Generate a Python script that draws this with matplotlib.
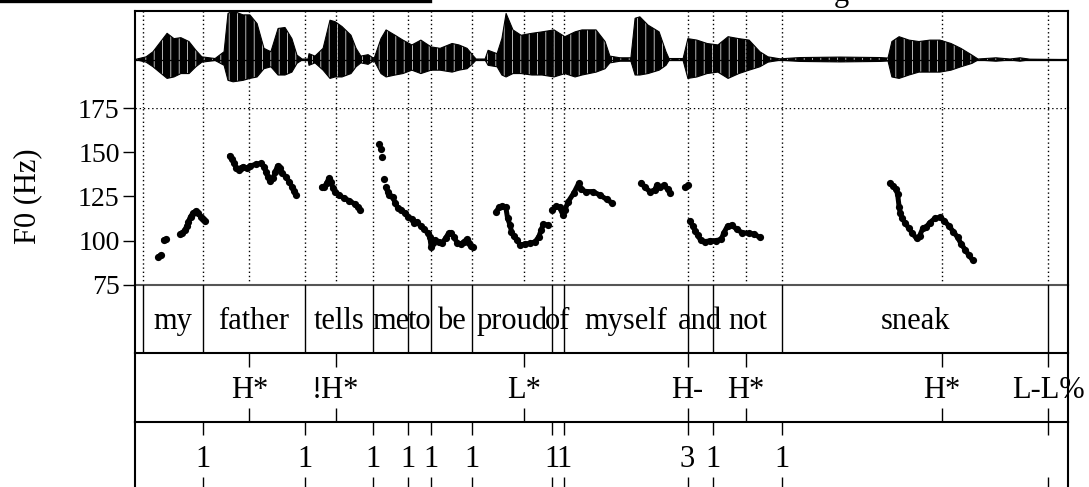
import matplotlib
matplotlib.use('Agg')
import matplotlib.pyplot as plt
from matplotlib.lines import Line2D

plt.rcParams['font.family'] = ['Liberation Serif', 'DejaVu Serif']
plt.rcParams['hatch.linewidth'] = 0.5

# ---------------- data ----------------
T_END = 3.109
words = ['my', 'father', 'tells', 'me', 'to', 'be', 'proud', 'of', 'myself', 'and', 'not', 'sneak']
word_bounds = [0.025, 0.228, 0.565, 0.794, 0.911, 0.987, 1.123, 1.389, 1.429, 1.842, 1.926, 2.158, 3.044]
tone_labels = ['H*', '!H*', 'L*', 'H-', 'H*', 'H*', 'L-L%']
tone_times = [0.381, 0.669, 1.297, 1.842, 2.036, 2.690, 3.044]
break_labels = ['1', '1', '1', '1', '1', '1', '1', '1', '3', '1', '1', '']
break_times = [0.228, 0.565, 0.794, 0.911, 0.987, 1.123, 1.389, 1.429, 1.842, 1.926, 2.158, 3.044]
f0_ticks = [75, 100, 125, 150, 175]

# F0 contour segments (time s, Hz)
f0_t_my1 = [0.077, 0.085]
f0_hz_my1 = [90.5, 91.8]
f0_t_my2 = [0.095, 0.104]
f0_hz_my2 = [100.3, 100.8]
f0_t_my3 = [0.150, 0.158, 0.166, 0.173, 0.178, 0.185, 0.193, 0.202, 0.210, 0.219, 0.225, 0.234]
f0_hz_my3 = [103.5, 104.4, 105.9, 108.2, 110.7, 113.5, 115.4, 116.7, 115.4, 113.5, 112.2, 111.2]
f0_t_father = [0.315, 0.323, 0.330, 0.338, 0.345, 0.353, 0.361, 0.373, 0.384, 0.402, 0.419, 0.431,
               0.436, 0.442, 0.451, 0.460, 0.468, 0.475, 0.483, 0.491, 0.502, 0.514, 0.523, 0.529, 0.535]
f0_hz_father = [147.9, 146.0, 143.7, 140.9, 139.9, 140.9, 141.8, 140.9, 142.2, 143.1, 143.7, 141.8,
                139.0, 136.2, 133.9, 135.2, 139.0, 142.2, 140.9, 138.1, 136.2, 133.3, 130.5, 128.2, 125.8]
f0_t_tells = [0.622, 0.631, 0.639, 0.646, 0.653, 0.660, 0.668, 0.680, 0.697, 0.714, 0.732, 0.743, 0.751]
f0_hz_tells = [130.1, 130.5, 132.4, 135.2, 133.3, 129.6, 127.7, 125.8, 123.9, 122.6, 120.7, 118.8, 117.3]
f0_t_me_dots = [0.813, 0.819, 0.824, 0.830]
f0_hz_me_dots = [154.5, 151.6, 147.1, 134.7]
f0_t_tobe = [0.836, 0.842, 0.848, 0.859, 0.868, 0.877, 0.888, 0.900, 0.911, 0.923, 0.931, 0.940,
             0.952, 0.964, 0.975, 0.983, 0.987, 0.992, 1.001, 1.012, 1.024, 1.035, 1.045, 1.054,
             1.062, 1.074, 1.085, 1.097, 1.105, 1.112, 1.120, 1.128]
f0_hz_tobe = [130.1, 127.7, 125.8, 124.5, 121.1, 118.2, 117.3, 115.4, 113.1, 112.0, 109.7, 110.7,
              108.2, 106.3, 104.4, 101.8, 96.5, 98.4, 100.3, 99.3, 98.8, 101.2, 104.1, 104.4,
              102.2, 98.8, 98.0, 99.3, 100.7, 98.8, 96.9, 96.5]
f0_t_proud = [1.204, 1.213, 1.224, 1.236, 1.242, 1.250, 1.255, 1.262, 1.273, 1.284, 1.300, 1.317,
              1.334, 1.346, 1.354, 1.361, 1.375]
f0_hz_proud = [116.3, 118.8, 119.5, 118.8, 112.6, 108.8, 105.0, 102.5, 100.3, 97.5, 98.0, 98.4,
               99.3, 102.2, 105.9, 109.3, 108.8]
f0_t_myself = [1.389, 1.404, 1.415, 1.427, 1.433, 1.444, 1.462, 1.479, 1.488, 1.502, 1.526, 1.549, 1.572, 1.589]
f0_hz_myself = [117.3, 119.5, 118.8, 114.4, 117.3, 122.0, 126.7, 132.4, 129.0, 127.7, 127.7, 125.8, 123.3, 121.4]
f0_t_self2 = [1.688, 1.699, 1.717, 1.732, 1.740, 1.751, 1.763, 1.775, 1.783]
f0_hz_self2 = [132.8, 130.1, 127.7, 128.6, 131.4, 130.1, 131.4, 129.0, 127.1]
f0_t_self3 = [1.833, 1.844]
f0_hz_self3 = [130.1, 131.4]
f0_t_andnot = [1.850, 1.859, 1.867, 1.875, 1.885, 1.899, 1.917, 1.937, 1.954, 1.963, 1.975, 1.989,
               2.006, 2.024, 2.047, 2.064, 2.082]
f0_hz_andnot = [111.2, 108.2, 105.6, 103.1, 100.3, 99.3, 99.9, 99.9, 100.7, 104.4, 108.2, 108.8,
                106.3, 104.4, 104.1, 103.7, 101.8]
f0_t_sneak = [2.516, 2.528, 2.536, 2.542, 2.547, 2.551, 2.557, 2.568, 2.580, 2.591, 2.605, 2.615,
              2.626, 2.638, 2.649, 2.667, 2.684, 2.698, 2.713, 2.728, 2.742, 2.754, 2.768, 2.779, 2.792]
f0_hz_sneak = [132.4, 130.9, 129.0, 126.3, 119.2, 115.4, 112.6, 109.7, 106.9, 104.1, 101.2, 102.5,
               106.9, 107.8, 110.1, 112.6, 113.1, 111.2, 108.2, 105.0, 101.8, 98.0, 94.6, 91.8, 88.9]

# waveform envelope (time s, normalised amplitude)
wave_t = [0.0, 0.037, 0.060, 0.107, 0.130, 0.153, 0.180, 0.203, 0.223, 0.267, 0.297, 0.310, 0.327,
          0.360, 0.383, 0.407, 0.430, 0.453, 0.477, 0.500, 0.523, 0.540, 0.557, 0.577, 0.580, 0.600,
          0.627, 0.650, 0.667, 0.690, 0.720, 0.737, 0.753, 0.777, 0.797, 0.820, 0.837, 0.867, 0.893,
          0.923, 0.953, 0.987, 1.017, 1.057, 1.080, 1.107, 1.127, 1.137, 1.167, 1.177, 1.207, 1.223,
          1.237, 1.260, 1.287, 1.323, 1.357, 1.397, 1.433, 1.467, 1.490, 1.537, 1.567, 1.583, 1.617,
          1.653, 1.667, 1.683, 1.710, 1.747, 1.770, 1.780, 1.827, 1.843, 1.873, 1.907, 1.943, 1.977,
          2.013, 2.047, 2.083, 2.110, 2.150, 2.217, 2.350, 2.483, 2.510, 2.523, 2.547, 2.580, 2.613,
          2.650, 2.683, 2.720, 2.753, 2.790, 2.810, 2.870, 2.917, 2.950, 2.983, 3.107]
wave_up = [0.0, 0.055, 0.16, 0.54, 0.43, 0.45, 0.37, 0.19, 0.055, 0.02, 0.16, 0.95, 1.0,
           0.92, 0.92, 0.74, 0.23, 0.16, 0.64, 0.66, 0.43, 0.09, 0.01, 0.01, 0.12, 0.07,
           0.23, 0.81, 0.78, 0.68, 0.50, 0.23, 0.07, 0.10, 0.02, 0.43, 0.61, 0.50, 0.40,
           0.30, 0.40, 0.26, 0.23, 0.33, 0.30, 0.23, 0.08, 0.01, 0.01, 0.19, 0.12, 0.43,
           0.95, 0.61, 0.50, 0.54, 0.57, 0.61, 0.47, 0.57, 0.61, 0.61, 0.37, 0.07, 0.035,
           0.035, 0.85, 0.88, 0.71, 0.57, 0.16, 0.02, 0.02, 0.43, 0.40, 0.33, 0.30, 0.47,
           0.43, 0.40, 0.16, 0.055, 0.014, 0.04, 0.05, 0.04, 0.03, 0.37, 0.47, 0.40, 0.37,
           0.40, 0.40, 0.33, 0.23, 0.09, 0.01, 0.035, 0.01, 0.035, 0.007, 0.0]
wave_lo = [0.0, -0.055, -0.15, -0.39, -0.36, -0.29, -0.29, -0.15, -0.055, -0.02, -0.12, -0.43, -0.46,
           -0.43, -0.39, -0.36, -0.19, -0.15, -0.32, -0.32, -0.26, -0.08, -0.01, -0.01, -0.12, -0.07,
           -0.22, -0.39, -0.36, -0.36, -0.29, -0.15, -0.07, -0.10, -0.02, -0.29, -0.36, -0.32, -0.29,
           -0.22, -0.29, -0.22, -0.22, -0.26, -0.22, -0.19, -0.08, -0.01, -0.01, -0.12, -0.15, -0.32,
           -0.36, -0.29, -0.29, -0.32, -0.32, -0.36, -0.29, -0.36, -0.32, -0.26, -0.19, -0.07, -0.035,
           -0.035, -0.32, -0.32, -0.29, -0.22, -0.12, -0.02, -0.02, -0.39, -0.36, -0.29, -0.26, -0.39,
           -0.29, -0.22, -0.15, -0.055, -0.014, -0.04, -0.05, -0.04, -0.03, -0.36, -0.39, -0.32, -0.26,
           -0.26, -0.26, -0.22, -0.15, -0.08, -0.01, -0.035, -0.01, -0.035, -0.007, 0.0]

f0_segments = [
    (f0_t_my1, f0_hz_my1), (f0_t_my2, f0_hz_my2), (f0_t_my3, f0_hz_my3),
    (f0_t_father, f0_hz_father), (f0_t_tells, f0_hz_tells),
    (f0_t_tobe, f0_hz_tobe), (f0_t_proud, f0_hz_proud), (f0_t_myself, f0_hz_myself),
    (f0_t_self2, f0_hz_self2), (f0_t_self3, f0_hz_self3), (f0_t_andnot, f0_hz_andnot),
    (f0_t_sneak, f0_hz_sneak),
]

# ---------------- layout ----------------
W, H = 1089, 487
fig = plt.figure(figsize=(W / 100, H / 100), dpi=100)

def frac_rect(top_px, bot_px):
    x0 = 135 / W
    w = 932.7 / W
    return [x0, 1 - bot_px / H, w, (bot_px - top_px) / H]

ax_w = fig.add_axes(frac_rect(11, 108))
ax_p = fig.add_axes(frac_rect(108, 284.7))
ax_words = fig.add_axes(frac_rect(284.7, 353.3))
ax_tones = fig.add_axes(frac_rect(353.3, 421.7))
ax_breaks = fig.add_axes(frac_rect(421.7, 490.3))

SP_LW = 1.5
for ax in (ax_w, ax_p, ax_words, ax_tones, ax_breaks):
    ax.set_xlim(0, T_END)
    ax.set_xticks([])
    for s in ax.spines.values():
        s.set_linewidth(SP_LW)
        s.set_color('black')
    ax.patch.set_alpha(0)

dotted_times = sorted(set(word_bounds + tone_times))
dot_style = dict(color='black', lw=1.0, linestyle=(0, (1, 2)))

# waveform: dark envelope with vertical striation
ax_w.set_ylim(-1.0, 1.0)
ax_w.set_yticks([])
ax_w.spines['bottom'].set_visible(False)
ax_w.fill_between(wave_t, wave_lo, wave_up, facecolor='black', edgecolor='white',
                  hatch='||', lw=0)
ax_w.plot(wave_t, wave_up, color='black', lw=0.8)
ax_w.plot(wave_t, wave_lo, color='black', lw=0.8)
ax_w.axhline(0, color='black', lw=0.9)
for t in dotted_times:
    ax_w.axvline(t, **dot_style)

# pitch
ax_p.set_ylim(75, 175)
ax_p.set_yticks(f0_ticks)
ax_p.set_yticklabels([str(v) for v in f0_ticks], fontsize=20)
ax_p.tick_params(axis='y', direction='out', length=9, width=1.0, pad=2)
ax_p.spines['top'].set_visible(False)
ax_p.spines['bottom'].set_color('#555555')
ax_p.axhline(175, **dot_style)
for t in dotted_times:
    ax_p.axvline(t, **dot_style)
for ts, hz in f0_segments:
    ax_p.plot(ts, hz, color='black', lw=3.6, solid_capstyle='round', solid_joinstyle='round')
    ax_p.plot(ts, hz, 'o', color='black', ms=5.2, mew=0)
ax_p.plot(f0_t_me_dots, f0_hz_me_dots, 'o', color='black', ms=5.2, mew=0)
ax_p.set_ylabel('F0 (Hz)', fontsize=22)
ax_p.yaxis.set_label_coords(-0.099, 0.5)

# word tier
ax_words.set_ylim(0, 1)
ax_words.set_yticks([])
ax_words.spines['top'].set_visible(False)
for b in word_bounds:
    ax_words.axvline(b, color='black', lw=1.0)
for i, w in enumerate(words):
    ax_words.text((word_bounds[i] + word_bounds[i + 1]) / 2, 0.46, w,
                  ha='center', va='center', fontsize=22)

# tone tier
ax_tones.set_ylim(0, 1)
ax_tones.set_yticks([])
ax_tones.spines['top'].set_visible(False)
ax_tones.vlines(tone_times, 0.8, 1.0, color='black', lw=1.0)
ax_tones.vlines(tone_times, 0.0, 0.2, color='black', lw=1.0)
for t, lab in zip(tone_times, tone_labels):
    ax_tones.text(t, 0.46, lab, ha='center', va='center', fontsize=22)

# break tier
ax_breaks.set_ylim(0, 1)
ax_breaks.set_yticks([])
ax_breaks.spines['top'].set_visible(False)
ax_breaks.vlines(break_times, 0.8, 1.0, color='black', lw=1.0)
ax_breaks.vlines(break_times, 0.0, 0.2, color='black', lw=1.0)
for t, lab in zip(break_times, break_labels):
    ax_breaks.text(t, 0.45, lab, ha='center', va='center', fontsize=22)

# remnant of caption cut at top
fig.add_artist(Line2D([0, 430 / W], [1 - 1.2 / H, 1 - 1.2 / H], color='black', lw=2.4))
fig.text(841 / W, 1 - 0.5 / H, 'g', fontsize=22, ha='center', va='baseline')

fig.savefig('out.png', dpi=100)
